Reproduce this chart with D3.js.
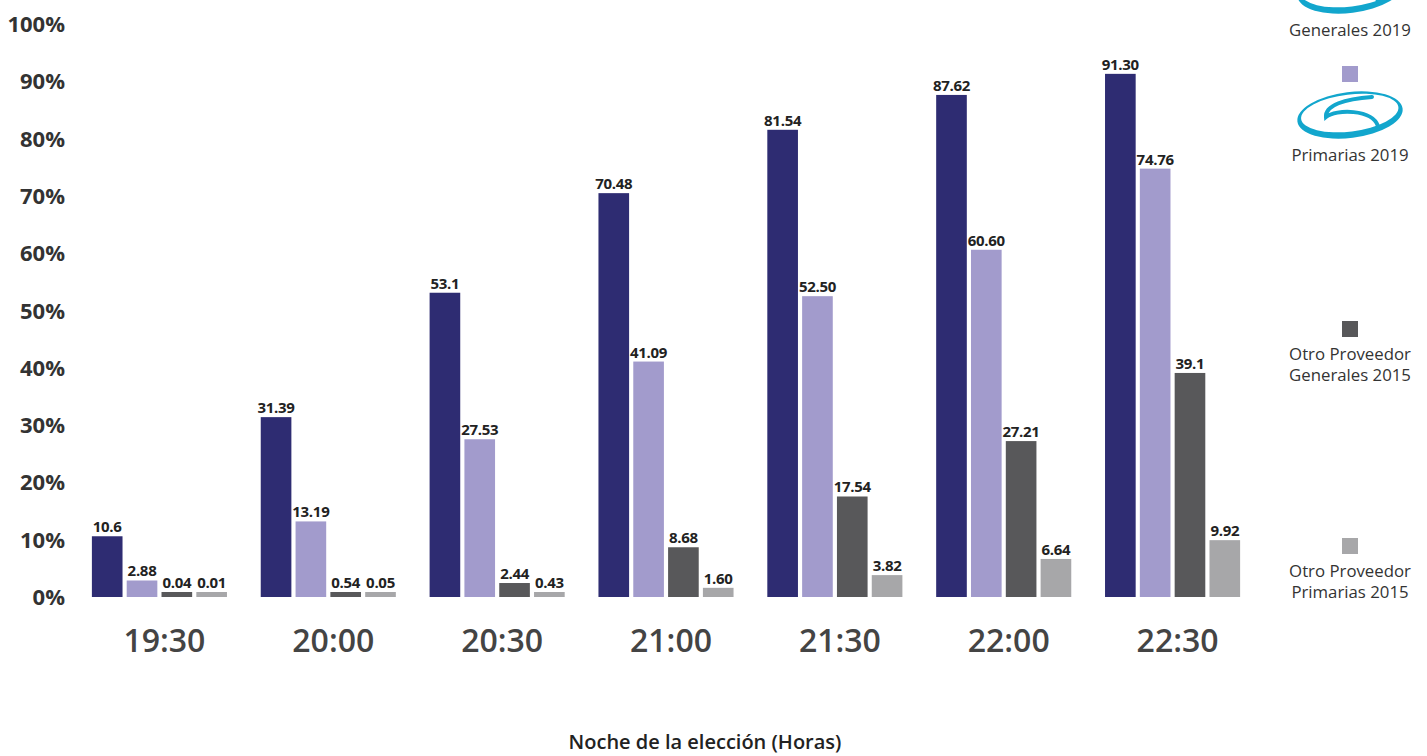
<!DOCTYPE html>
<html lang="es">
  <head>
    <meta charset="UTF-8" />
    <title>Noche de la elección</title>
    <style>
      body { margin: 0; background: #fff; }
      text { font-family: "Open Sans", sans-serif; }
    </style>
  </head>
  <body>
    <svg id="svg" width="1427" height="756"></svg>

    <script src="https://d3js.org/d3.v7.min.js"></script>
    <script>
      const horas = ["19:30", "20:00", "20:30", "21:00", "21:30", "22:00", "22:30"];
      const series = ["gen2019", "pri2019", "gen2015", "pri2015"];

      const generales2019 = [10.6, 31.39, 53.1, 70.48, 81.54, 87.62, 91.3];
      const primarias2019 = [2.88, 13.19, 27.53, 41.09, 52.5, 60.6, 74.76];
      const generales2015 = [0.04, 0.54, 2.44, 8.68, 17.54, 27.21, 39.1];
      const primarias2015 = [0.01, 0.05, 0.43, 1.6, 3.82, 6.64, 9.92];

      // labels as printed on the chart
      const etiquetas = [
        ["10.6", "31.39", "53.1", "70.48", "81.54", "87.62", "91.30"],
        ["2.88", "13.19", "27.53", "41.09", "52.50", "60.60", "74.76"],
        ["0.04", "0.54", "2.44", "8.68", "17.54", "27.21", "39.1"],
        ["0.01", "0.05", "0.43", "1.60", "3.82", "6.64", "9.92"],
      ];
      const yTicks = [0, 10, 20, 30, 40, 50, 60, 70, 80, 90, 100];

      const colores = ["#2e2c72", "#a29bcc", "#58585a", "#a7a7a9"];
      const leyenda = [
        { lines: ["Generales 2019"], logo: true },
        { lines: ["Primarias 2019"], logo: true },
        { lines: ["Otro Proveedor", "Generales 2015"], logo: false },
        { lines: ["Otro Proveedor", "Primarias 2015"], logo: false },
      ];

      const valores = [generales2019, primarias2019, generales2015, primarias2015];
      const data = horas.map((h, i) => ({
        hora: h,
        vals: series.map((s, j) => ({ s, j, v: valores[j][i], label: etiquetas[j][i] })),
      }));

      const svg = d3.select("#svg");

      const x0 = d3.scaleBand().domain(horas).range([75, 1257]).paddingInner(0.2).paddingOuter(0.1);
      const x1 = d3.scaleBand().domain(series).range([0, x0.bandwidth()]).paddingInner(0.12);
      const y = d3.scaleLinear().domain([0, 100]).range([597, 24]);

      // y axis labels
      svg.append("g")
        .selectAll("text")
        .data(yTicks)
        .enter()
        .append("text")
        .attr("x", 65)
        .attr("y", (d) => y(d) + 8)
        .attr("text-anchor", "end")
        .attr("font-size", 22)
        .attr("font-weight", 700)
        .attr("fill", "#333")
        .text((d) => d + "%");

      const grupos = svg.append("g")
        .selectAll("g")
        .data(data)
        .enter()
        .append("g")
        .attr("transform", (d) => `translate(${x0(d.hora)},0)`);

      // tiny values still get a visible sliver
      const barH = (v) => Math.max(y(0) - y(v), 5);

      grupos.selectAll("rect")
        .data((d) => d.vals)
        .enter()
        .append("rect")
        .attr("x", (d) => x1(d.s))
        .attr("y", (d) => y(0) - barH(d.v))
        .attr("width", x1.bandwidth())
        .attr("height", (d) => barH(d.v))
        .attr("fill", (d) => colores[d.j]);

      grupos.selectAll("text.val")
        .data((d) => d.vals)
        .enter()
        .append("text")
        .attr("class", "val")
        .attr("x", (d) => x1(d.s) + x1.bandwidth() / 2)
        .attr("y", (d) => y(0) - barH(d.v) - 4)
        .attr("text-anchor", "middle")
        .attr("font-size", 15)
        .attr("font-weight", 700)
        .attr("letter-spacing", -0.3)
        .attr("fill", "#222")
        .text((d) => d.label);

      // x labels
      svg.append("g")
        .selectAll("text")
        .data(horas)
        .enter()
        .append("text")
        .attr("x", (d) => x0(d) + x0.bandwidth() / 2 + 5)
        .attr("y", 652)
        .attr("text-anchor", "middle")
        .attr("font-size", 32)
        .attr("font-weight", 600)
        .attr("fill", "#444")
        .text((d) => d);

      svg.append("text")
        .attr("x", 705)
        .attr("y", 749)
        .attr("text-anchor", "middle")
        .attr("font-size", 20)
        .attr("font-weight", 600)
        .attr("fill", "#222")
        .text("Noche de la elección (Horas)");

      // legend
      const legY = [-51, 74, 329, 546];
      const lx = 1350;
      const leg = svg.append("g")
        .selectAll("g")
        .data(leyenda)
        .enter()
        .append("g")
        .attr("transform", (d, i) => `translate(${lx},${legY[i]})`);

      leg.append("rect")
        .attr("x", -8)
        .attr("y", -8)
        .attr("width", 16)
        .attr("height", 16)
        .attr("fill", (d, i) => colores[i]);

      const logos = leg.filter((d) => d.logo)
        .append("g")
        .attr("transform", "translate(0,41)");

      logos.append("path")
        .attr("fill", "#12a6cd")
        .attr("fill-rule", "evenodd")
        .attr("transform", "rotate(-7)")
        .attr(
          "d",
          "M-53,0 A53,23 0 1,0 53,0 A53,23 0 1,0 -53,0 Z " +
            "M-49,-2 A49,18.5 0 1,0 49,-2 A49,18.5 0 1,0 -49,-2 Z"
        );

      logos.append("path")
        .attr("fill", "none")
        .attr("stroke", "#12a6cd")
        .attr("stroke-width", 4)
        .attr("stroke-linecap", "round")
        .attr("d", "M22,-18 C-5,-16 -25,-10 -24,2 C-14,-6 22,-6 28,11");

      leg.each(function (d) {
        const g = d3.select(this);
        const base = d.logo ? 87 : 31;
        d.lines.forEach((t, k) => {
          g.append("text")
            .attr("x", 0)
            .attr("y", base + k * 21)
            .attr("text-anchor", "middle")
            .attr("font-size", 16.8)
            .attr("fill", "#333")
            .text(t);
        });
      });
    </script>
  </body>
</html>
